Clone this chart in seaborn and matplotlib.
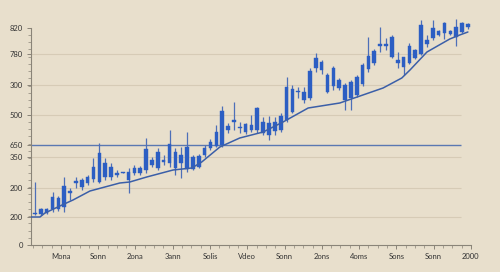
import matplotlib
matplotlib.use("Agg")
import matplotlib.pyplot as plt
import seaborn as sns
import numpy as np
import pandas as pd

# ---- data (arbitrary units) ----
body_top = [32, 36, 36, 48, 47, 59, 54, 64, 65, 68, 78, 92, 82, 78, 72, 73, 73, 77, 77, 96,
            85, 93, 85, 101, 93, 90, 98, 88, 89, 97, 103, 113, 134, 119, 125, 118, 121, 120, 137, 123,
            122, 123, 129, 158, 156, 154, 153, 174, 187, 183, 170, 177, 165, 160, 163, 168, 180, 189, 194, 201,
            201, 208, 185, 188, 199, 195, 220, 205, 217, 214, 222, 214, 218, 222, 221]
body_bot = [31, 31, 32, 36, 36, 38, 52, 62, 58, 62, 66, 63, 68, 68, 70, 72, 65, 72, 72, 75,
            80, 77, 83, 82, 77, 82, 76, 76, 78, 90, 97, 99, 100, 115, 123, 117, 113, 115, 115, 112,
            110, 114, 115, 125, 133, 153, 145, 147, 177, 175, 153, 159, 157, 145, 147, 150, 161, 176, 182, 199,
            199, 188, 182, 178, 182, 187, 191, 201, 207, 210, 212, 211, 208, 213, 218]
high = [63, 37, 37, 53, 49, 68, 57, 68, 67, 70, 87, 102, 87, 82, 75, 73, 77, 80, 79, 107,
        88, 97, 90, 115, 97, 98, 113, 90, 91, 100, 106, 120, 139, 122, 143, 123, 122, 130, 138, 128,
        129, 128, 132, 168, 160, 158, 158, 177, 192, 185, 172, 179, 167, 162, 165, 170, 182, 208, 196, 218,
        207, 210, 193, 188, 202, 196, 225, 210, 225, 215, 223, 215, 226, 223, 222]
low = [30, 30, 31, 33, 34, 33, 45, 57, 55, 60, 63, 62, 65, 65, 68, 72, 52, 70, 70, 72,
       78, 75, 80, 78, 70, 67, 73, 75, 77, 88, 95, 98, 98, 112, 115, 112, 111, 113, 112, 110,
       105, 110, 113, 123, 132, 147, 142, 145, 173, 171, 152, 155, 155, 135, 135, 148, 159, 173, 180, 193,
       195, 187, 177, 170, 181, 186, 190, 198, 205, 209, 206, 210, 199, 212, 216]

ma_idx = [-0.68, 0.85, 1.71, 4.62, 6.5, 9.4, 14.5, 16.2, 19.1, 23.6, 26.8, 28.5, 31.6, 35.0,
          39.0, 42.4, 46.7, 52.1, 59.5, 62.7, 64.1, 67.0, 70.9, 72.6, 74.0]
ma_val = [28, 28, 32, 40, 45, 54, 62, 63, 68, 75, 77, 83, 98, 107,
          113, 123, 137, 142, 157, 167, 175, 193, 206, 210, 213]

ytick_pos = [0, 28, 57, 88, 100, 130, 160, 191, 217]
ytick_lab = ["0", "200", "200", "350", "650", "500", "300", "780", "820"]
grid_pos = [28, 57, 88, 130, 160, 191]
ref_level = 100

xtick_lab = ["Mona", "Sonn", "2ona", "3ann", "Solis", "Vdeo", "Sonn", "2ons", "4oms", "Sons", "Sonn", "2000"]

BG = "#e8dfcc"
BLUE = "#2c5ec3"
WICK = "#4d6fb8"
LINE = "#3b5fa8"

sns.set_theme(style="white")
plt.rcParams["font.family"] = ["Lato", "DejaVu Sans"]

fig = plt.figure(figsize=(5.0, 2.72), dpi=100, facecolor=BG)
ax = fig.add_axes([31 / 500, 27 / 272, 440 / 500, 235 / 272], facecolor=BG)

n = len(body_top)
xs = np.arange(n)
xmin, xmax = -0.68, 74.53
grid_end = 72.8

ax.hlines(grid_pos, xmin, grid_end, color="#d6cbb6", lw=0.8, zorder=1)
ax.hlines([ref_level], xmin, grid_end, color="#5a78b2", lw=1.0, zorder=2)

# wicks
ax.vlines(xs, low, high, color=WICK, lw=0.9, zorder=3)
# bodies
bt = np.array(body_top, dtype=float)
bb = np.array(body_bot, dtype=float)
h = np.maximum(bt - bb, 0.9)
ax.bar(xs, h, bottom=bb, width=0.62, color=BLUE, edgecolor=BLUE, lw=0.3, zorder=4)

df = pd.DataFrame({"idx": ma_idx, "val": ma_val})
sns.lineplot(data=df, x="idx", y="val", ax=ax, color=LINE, lw=1.1, zorder=5, sort=False)

ax.set_xlim(xmin, xmax)
ax.set_ylim(0, 235)
ax.set_xlabel("")
ax.set_ylabel("")

ax.spines["top"].set_visible(False)
ax.spines["right"].set_visible(False)
for s in ("left", "bottom"):
    ax.spines[s].set_color("#8a8478")
    ax.spines[s].set_linewidth(0.8)
ax.spines["left"].set_bounds(0, 217)

major_step = 6.37
xt = [4.44 + major_step * k for k in range(len(xtick_lab))]
ax.set_xticks(xt)
ax.set_xticklabels(xtick_lab)
minor_x = [4.44 + major_step * k / 4 for k in range(-4, 4 * len(xtick_lab))]
minor_x = [m for m in minor_x if xmin < m < xmax and abs(((m - 4.44) / major_step) % 1) > 0.01]
ax.set_xticks(minor_x, minor=True)

ax.set_yticks(ytick_pos)
ax.set_yticklabels(ytick_lab)
ax.set_yticks(list(np.arange(7.25, 217, 7.25)), minor=True)

ax.tick_params(axis="both", which="major", direction="out", length=3, width=0.7,
               color="#8a8478", labelsize=5.5, labelcolor="#333333", pad=3, left=True, bottom=True)
ax.tick_params(axis="both", which="minor", direction="out", length=2, width=0.5,
               color="#8a8478", left=True, bottom=True)

fig.savefig("out.png", dpi=100, facecolor=BG)
